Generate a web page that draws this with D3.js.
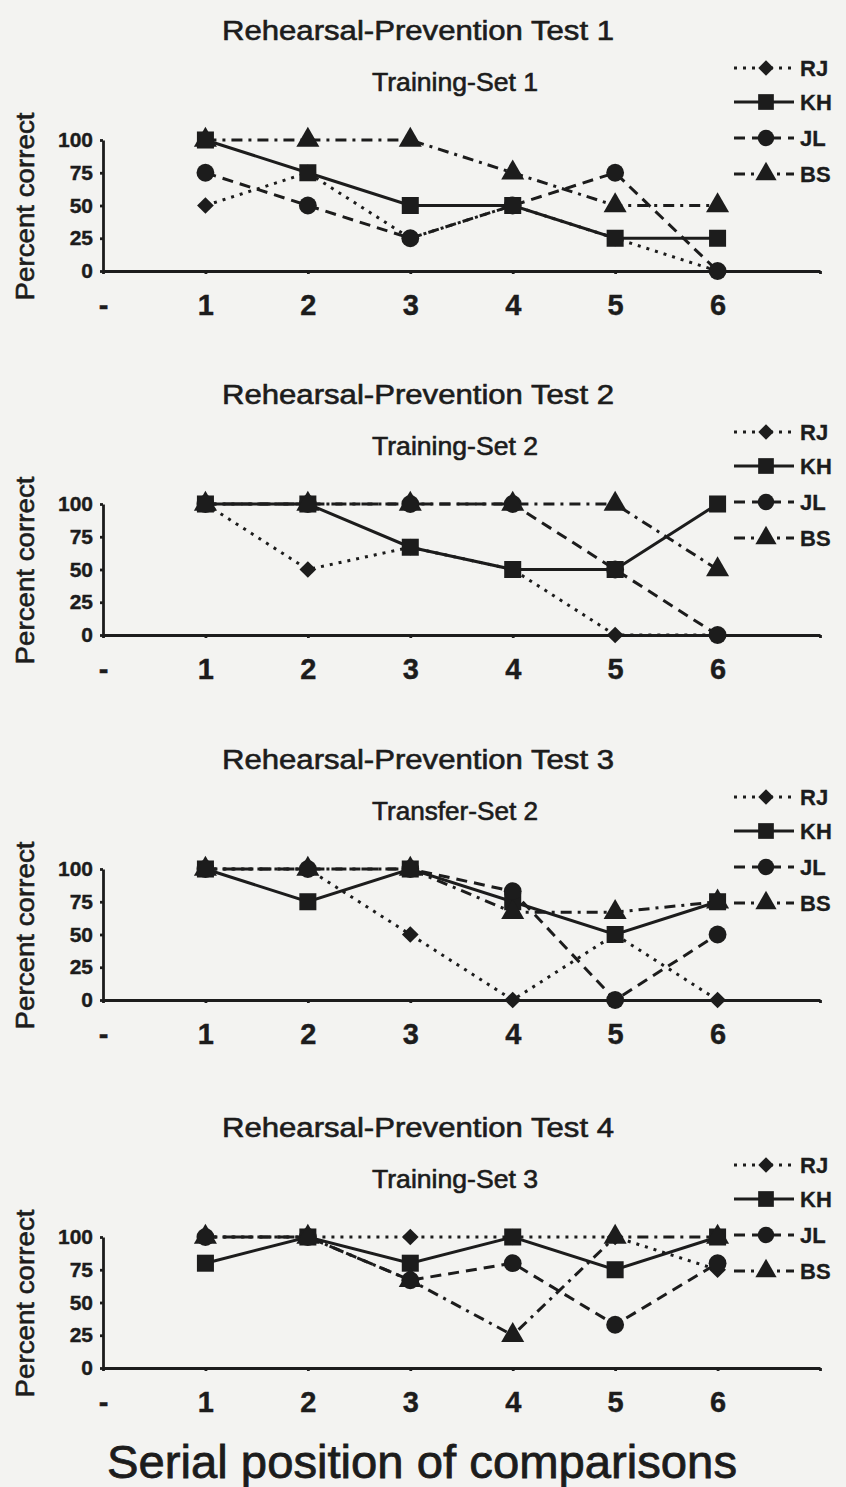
<!DOCTYPE html>
<html>
<head>
<meta charset="utf-8">
<script src="https://cdn.jsdelivr.net/npm/d3@7"></script>
<style>
body { margin: 0; background: #f3f3f1; }
svg { display: block; font-family: "Liberation Sans", Arial, sans-serif; }
.ink { fill: #1c1c1c; stroke: #1c1c1c; stroke-width: 0.6; }
.title { font-size: 27px; }
.subtitle { font-size: 25px; }
.ylabel { font-size: 25px; }
.tick text { font-size: 21px; font-weight: bold; fill: #1c1c1c; stroke: #1c1c1c; stroke-width: 0.4; }
.xtick text { font-size: 29px; }
.domain, .tick line { stroke: #1c1c1c; stroke-width: 2.8; }
.legend text { font-size: 22px; font-weight: bold; stroke-width: 0.3; }
.xtitle { font-size: 47px; stroke-width: 0.8; }
</style>
</head>
<body>
<svg id="chart" width="846" height="1487"></svg>
<script>
var WIDTH = 846;
var HEIGHT = 1487;
var INK = "#1c1c1c";

// data
var categories = ["-", "1", "2", "3", "4", "5", "6"];
var positions = ["1", "2", "3", "4", "5", "6"];
var yTicks = [0, 25, 50, 75, 100];
var titles = ["Rehearsal-Prevention Test 1", "Rehearsal-Prevention Test 2",
              "Rehearsal-Prevention Test 3", "Rehearsal-Prevention Test 4"];
var subtitles = ["Training-Set 1", "Training-Set 2", "Transfer-Set 2", "Training-Set 3"];
var subjects = ["RJ", "KH", "JL", "BS"];

var rj = [[50, 75, 25, 50, 25, 0],
          [100, 50, 67, 50, 0, 0],
          [100, 100, 50, 0, 50, 0],
          [100, 100, 100, 100, 100, 75]];
var kh = [[100, 75, 50, 50, 25, 25],
          [100, 100, 67, 50, 50, 100],
          [100, 75, 100, 75, 50, 75],
          [80, 100, 80, 100, 75, 100]];
var jl = [[75, 50, 25, 50, 75, 0],
          [100, 100, 100, 100, 50, 0],
          [100, 100, 100, 83, 0, 50],
          [100, 100, 67, 80, 33, 80]];
var bs = [[100, 100, 100, 75, 50, 50],
          [100, 100, 100, 100, 100, 50],
          [100, 100, 100, 67, 67, 75],
          [100, 100, 67, 25, 100, 100]];

// layout
var panelTops = [140, 504, 869, 1237];
var PANEL_H = 131;
var AXIS_X = 103;

var series = [rj, kh, jl, bs];
var dashes = ["3,6", null, "11,7", "11,6,3,6"];
var shapes = [d3.symbolSquare, d3.symbolSquare, d3.symbolCircle, d3.symbolTriangle];
var sizes = [140, 290, 250, 230];
var turns = [45, 0, 0, 0];

var svg = d3.select("#chart");

var x = d3.scalePoint()
          .domain(categories.concat([""]))
          .range([AXIS_X, 820]);

/**
 * Drawing one panel
 *@param {Number} p panel index
 */
function DrawPanel(p)
{
	var top = panelTops[p];
	var y = d3.scaleLinear()
	          .domain([0, 100])
	          .range([top + PANEL_H, top]);

	var g = svg.append("g");

	g.append("text")
		.attr("class", "title ink")
		.attr("x", 418)
		.attr("y", top - 100)
		.attr("text-anchor", "middle")
		.attr("textLength", 392)
		.attr("lengthAdjust", "spacingAndGlyphs")
		.text(titles[p]);

	g.append("text")
		.attr("class", "subtitle ink")
		.attr("x", 455)
		.attr("y", top - 49)
		.attr("text-anchor", "middle")
		.attr("textLength", 166)
		.attr("lengthAdjust", "spacingAndGlyphs")
		.text(subtitles[p]);

	g.append("text")
		.attr("class", "ylabel ink")
		.attr("transform", "translate(34," + (top + PANEL_H / 2 + 1) + ") rotate(-90)")
		.attr("text-anchor", "middle")
		.attr("textLength", 188)
		.attr("lengthAdjust", "spacingAndGlyphs")
		.text("Percent correct");

	g.append("g")
		.attr("transform", "translate(" + AXIS_X + ",0)")
		.call(d3.axisLeft(y)
				.tickValues(yTicks)
				.tickSize(3)
				.tickPadding(7)
				.tickSizeOuter(0));

	g.append("g")
		.attr("class", "xtick")
		.attr("transform", "translate(0," + (top + PANEL_H) + ")")
		.call(d3.axisBottom(x)
				.tickSize(3)
				.tickPadding(20)
				.tickSizeOuter(0)
				.tickFormat(function(d){return d;}));

	var line = d3.line()
	             .x(function(d, i){return x(positions[i]);})
	             .y(function(d){return y(d);});

	for (var s = 0; s < series.length; s++)
	{
		g.append("path")
			.datum(series[s][p])
			.attr("fill", "none")
			.attr("stroke", INK)
			.attr("stroke-width", 3)
			.attr("stroke-dasharray", dashes[s])
			.attr("d", line);
	}

	for (var s = 0; s < series.length; s++)
	{
		var sym = d3.symbol().type(shapes[s]).size(sizes[s]);
		var turn = turns[s];
		g.selectAll(".m" + s)
			.data(series[s][p])
			.enter()
			.append("path")
			.attr("class", "m" + s)
			.attr("fill", INK)
			.attr("transform", function(d, i){
				return "translate(" + x(positions[i]) + "," + y(d) + ") rotate(" + turn + ")";
			})
			.attr("d", sym);
	}

	// legend
	var legendY = [top - 72, top - 38, top - 2, top + 34];
	var lg = g.append("g").attr("class", "legend");
	for (var s = 0; s < subjects.length; s++)
	{
		lg.append("line")
			.attr("x1", 734)
			.attr("x2", 794)
			.attr("y1", legendY[s])
			.attr("y2", legendY[s])
			.attr("stroke", INK)
			.attr("stroke-width", 3)
			.attr("stroke-dasharray", dashes[s]);

		lg.append("path")
			.attr("fill", INK)
			.attr("transform", "translate(766," + legendY[s] + ") rotate(" + turns[s] + ")")
			.attr("d", d3.symbol().type(shapes[s]).size(sizes[s] * 0.85));

		lg.append("text")
			.attr("class", "ink")
			.attr("x", 800)
			.attr("y", legendY[s] + 8)
			.text(subjects[s]);
	}
}

for (var p = 0; p < titles.length; p++)
{
	DrawPanel(p);
}

svg.append("text")
	.attr("class", "xtitle ink")
	.attr("x", 422)
	.attr("y", 1478)
	.attr("text-anchor", "middle")
	.attr("textLength", 630)
	.attr("lengthAdjust", "spacingAndGlyphs")
	.text("Serial position of comparisons");
</script>
</body>
</html>
